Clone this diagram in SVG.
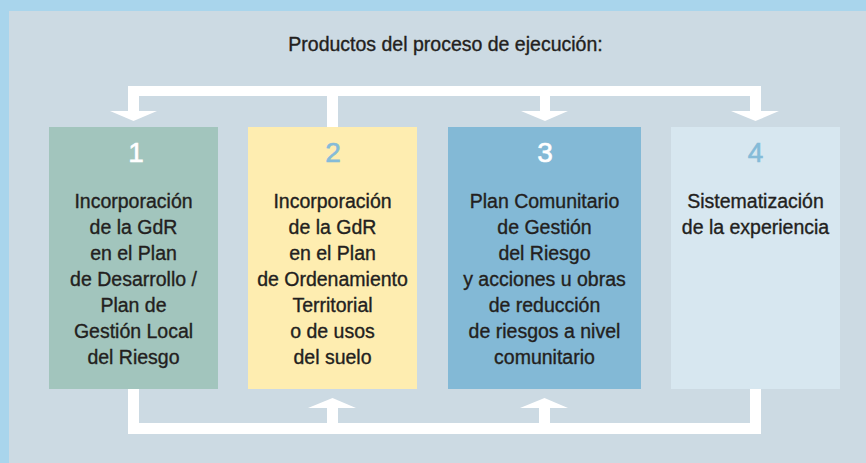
<svg xmlns="http://www.w3.org/2000/svg" width="866" height="463" viewBox="0 0 866 463">
<style>
.t{font-family:"Liberation Sans",Arial,sans-serif;font-size:19.5px;fill:#231f20;stroke:#231f20;stroke-width:0.35px;text-anchor:middle}
.n{font-family:"Liberation Sans",Arial,sans-serif;font-size:28px;text-anchor:middle;stroke-width:0.6px}
.w{fill:#ffffff;stroke:#ffffff}
.b{fill:#85bbd8;stroke:#85bbd8}
.c{fill:#ffffff}
</style>
<rect x="0" y="0" width="866" height="463" fill="#a9d5ec"/>
<rect x="9" y="11" width="857" height="452" fill="#ccdae3"/>
<text class="t" x="445.5" y="51">Productos del proceso de ejecución:</text>
<g id="connectors" class="c">
  <rect x="128" y="86" width="633" height="10"/>
  <rect x="128" y="86" width="11" height="26"/>
  <polygon points="110,111 157,111 133.5,121"/>
  <rect x="327" y="86" width="11" height="41"/>
  <rect x="540" y="86" width="10" height="26"/>
  <polygon points="521,111 568,111 545,121"/>
  <rect x="750" y="86" width="11" height="26"/>
  <polygon points="731,111 779,111 755.5,121"/>
  <rect x="128" y="423" width="633" height="11"/>
  <rect x="128" y="389" width="11" height="45"/>
  <rect x="750" y="389" width="11" height="45"/>
  <rect x="327" y="407" width="11" height="17"/>
  <polygon points="308,408 356,408 332.5,398"/>
  <rect x="539" y="407" width="11" height="17"/>
  <polygon points="520,408 568,408 544.5,398"/>
</g>
<g id="node1">
  <rect x="49" y="127" width="169" height="262" fill="#a2c5bd"/>
  <text class="n w" x="136" y="162">1</text>
  <text class="t" x="133.5" y="208">Incorporación</text>
  <text class="t" x="133.5" y="234">de la GdR</text>
  <text class="t" x="133.5" y="260">en el Plan</text>
  <text class="t" x="133.5" y="286">de Desarrollo /</text>
  <text class="t" x="133.5" y="312">Plan de</text>
  <text class="t" x="133.5" y="338">Gestión Local</text>
  <text class="t" x="133.5" y="364">del Riesgo</text>
</g>
<g id="node2">
  <rect x="248" y="127" width="169" height="262" fill="#feedb0"/>
  <text class="n b" x="333" y="162">2</text>
  <text class="t" x="332.5" y="208">Incorporación</text>
  <text class="t" x="332.5" y="234">de la GdR</text>
  <text class="t" x="332.5" y="260">en el Plan</text>
  <text class="t" x="332.5" y="286">de Ordenamiento</text>
  <text class="t" x="332.5" y="312">Territorial</text>
  <text class="t" x="332.5" y="338">o de usos</text>
  <text class="t" x="332.5" y="364">del suelo</text>
</g>
<g id="node3">
  <rect x="448" y="127" width="193" height="262" fill="#83b9d6"/>
  <text class="n w" x="545" y="162">3</text>
  <text class="t" x="544.5" y="208">Plan Comunitario</text>
  <text class="t" x="544.5" y="234">de Gestión</text>
  <text class="t" x="544.5" y="260">del Riesgo</text>
  <text class="t" x="544.5" y="286">y acciones u obras</text>
  <text class="t" x="544.5" y="312">de reducción</text>
  <text class="t" x="544.5" y="338">de riesgos a nivel</text>
  <text class="t" x="544.5" y="364">comunitario</text>
</g>
<g id="node4">
  <rect x="671" y="127" width="169" height="262" fill="#d7e7f0"/>
  <text class="n b" x="755.5" y="162">4</text>
  <text class="t" x="755.5" y="208">Sistematización</text>
  <text class="t" x="755.5" y="234">de la experiencia</text>
</g>
</svg>
